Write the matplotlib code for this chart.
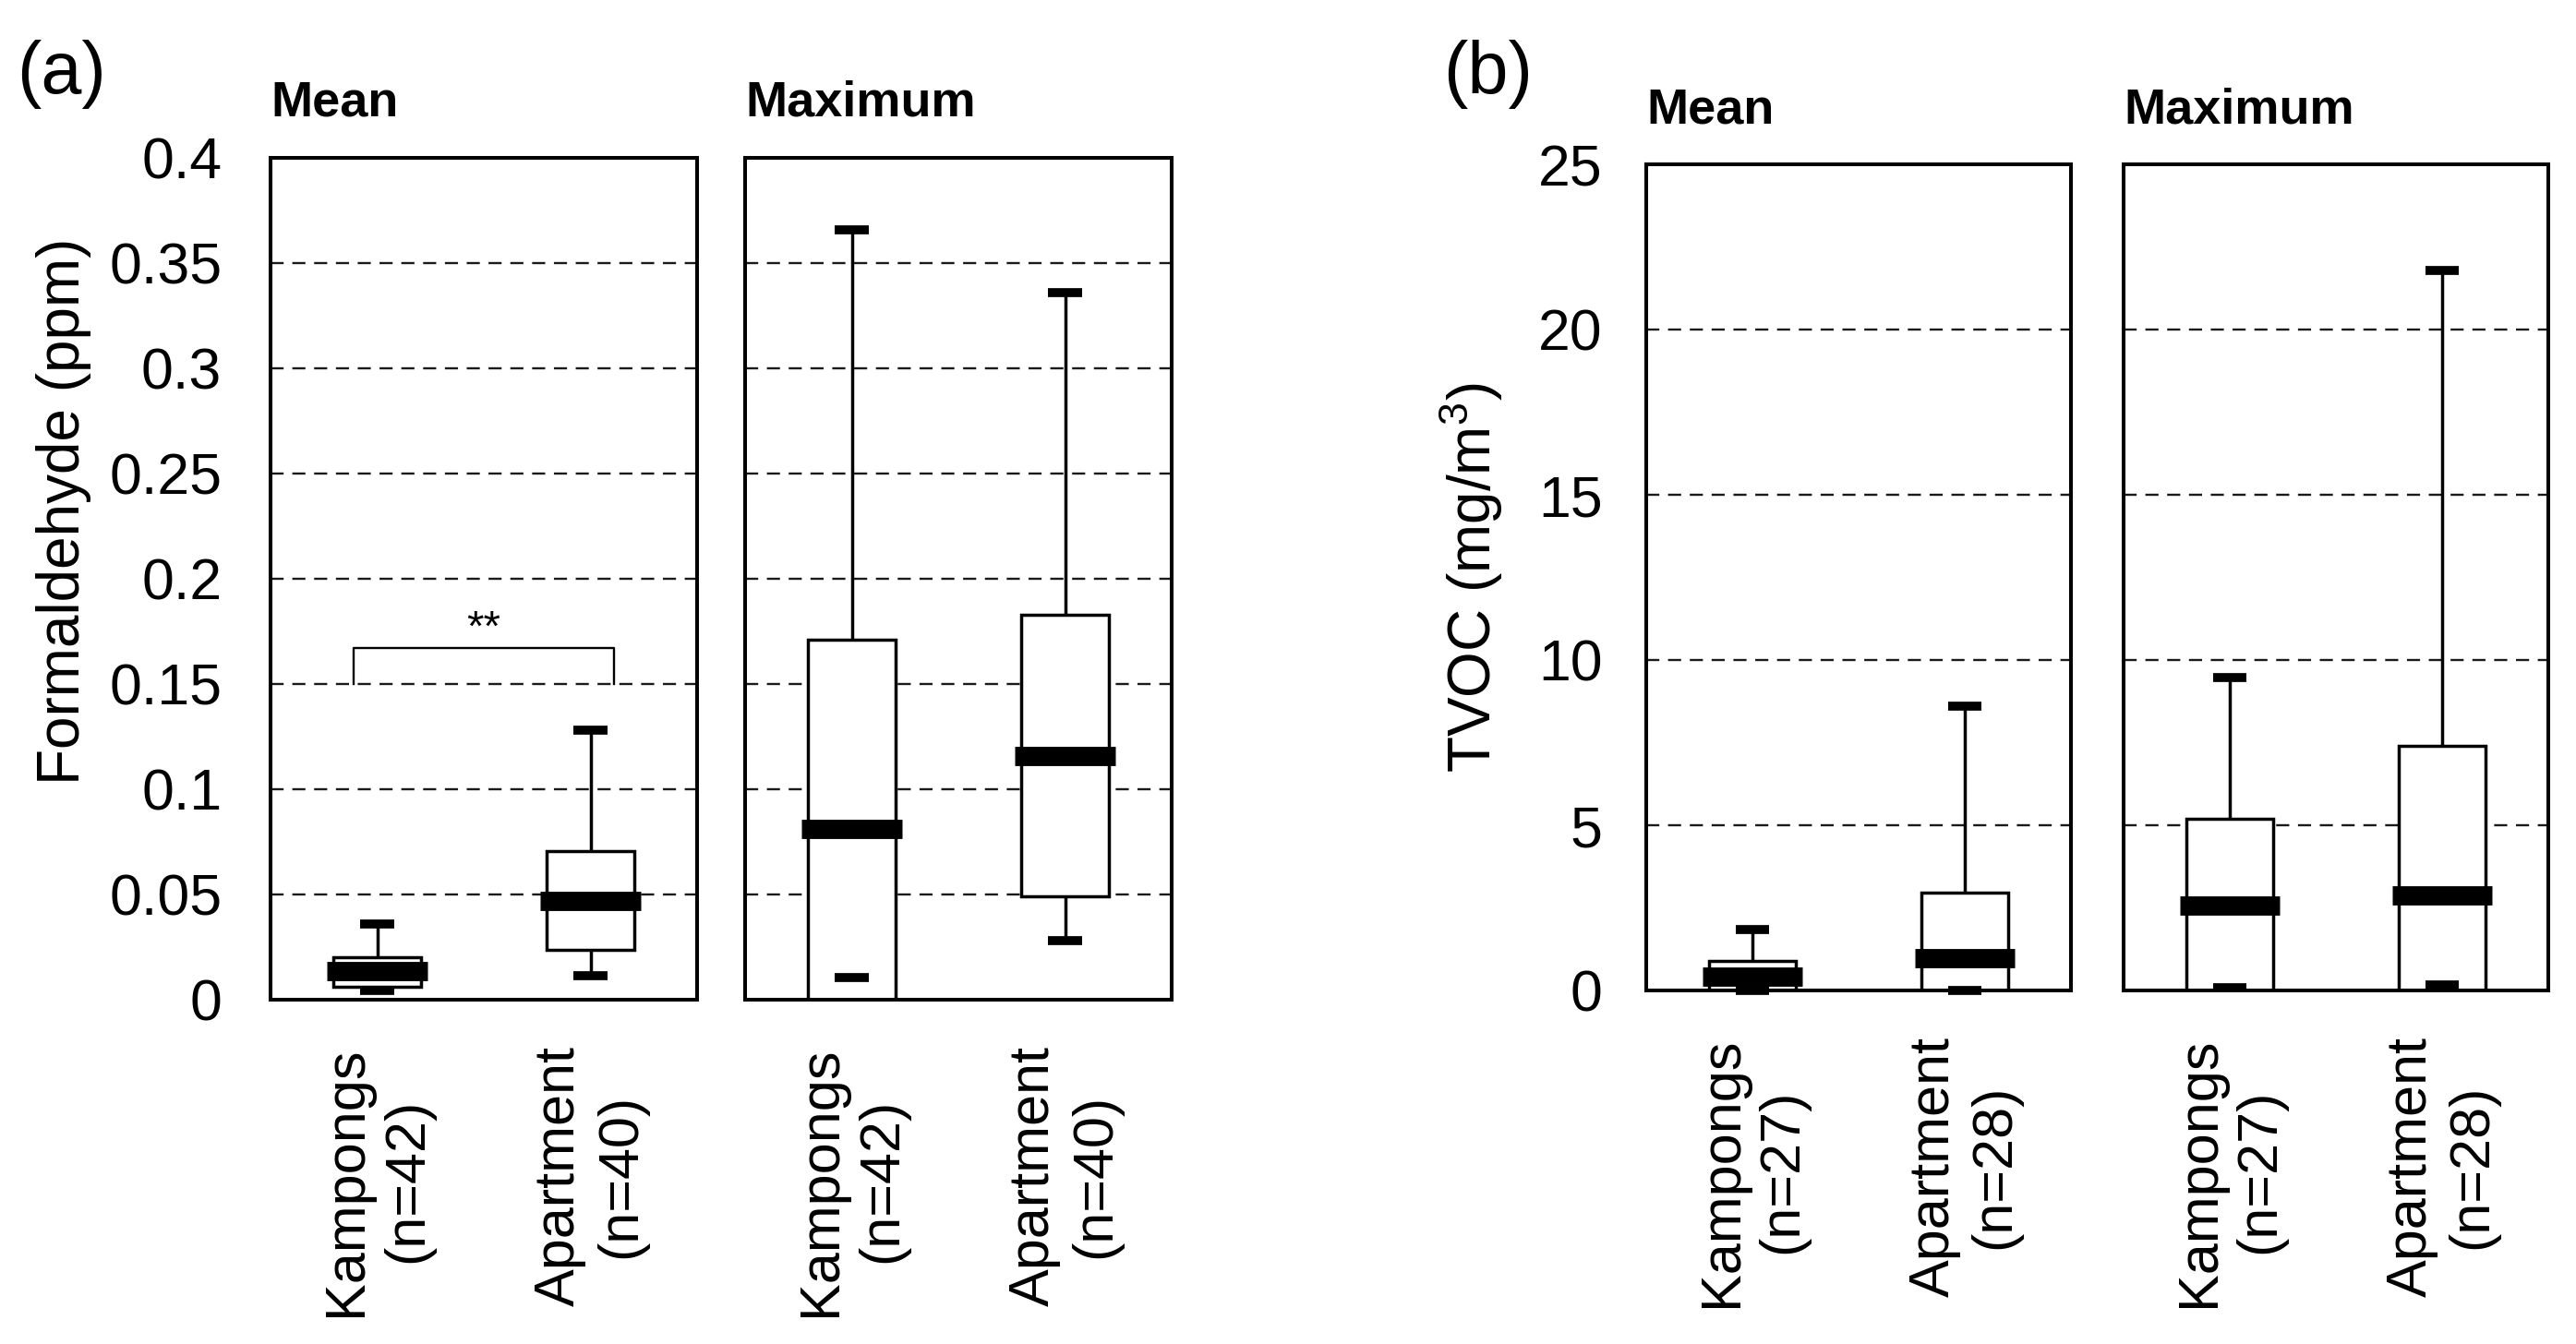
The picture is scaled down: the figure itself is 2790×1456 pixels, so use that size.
"""Formaldehyde and TVOC box plots, Kampongs vs Apartment (mean and maximum)."""
import matplotlib
matplotlib.use("Agg")
import matplotlib.pyplot as plt

plt.rcParams["font.family"] = ["Liberation Sans", "DejaVu Sans"]
plt.rcParams["mathtext.fontset"] = "custom"
plt.rcParams["mathtext.rm"] = "Liberation Sans"

# ---- data -----------------------------------------------------------------
CAT_A = ["Kampongs\n(n=42)", "Apartment\n(n=40)"]
CAT_B = ["Kampongs\n(n=27)", "Apartment\n(n=28)"]

# formaldehyde (ppm), mean of measurements
HCHO_MEAN_LO = [0.0044, 0.0114]
HCHO_MEAN_Q1 = [0.006, 0.0237]
HCHO_MEAN_MED = [0.0136, 0.047]
HCHO_MEAN_Q3 = [0.020, 0.0706]
HCHO_MEAN_HI = [0.036, 0.128]
# formaldehyde (ppm), maximum
HCHO_MAX_LO = [0.0106, 0.028]
HCHO_MAX_Q1 = [0.0, 0.049]
HCHO_MAX_MED = [0.081, 0.1156]
HCHO_MAX_Q3 = [0.171, 0.183]
HCHO_MAX_HI = [0.366, 0.336]

# TVOC (mg/m3), mean
TVOC_MEAN_LO = [0.0, 0.0]
TVOC_MEAN_Q1 = [0.0, 0.0]
TVOC_MEAN_MED = [0.42, 0.97]
TVOC_MEAN_Q3 = [0.89, 2.96]
TVOC_MEAN_HI = [1.84, 8.6]
# TVOC (mg/m3), maximum
TVOC_MAX_LO = [0.08, 0.17]
TVOC_MAX_Q1 = [0.0, 0.0]
TVOC_MAX_MED = [2.58, 2.89]
TVOC_MAX_Q3 = [5.2, 7.41]
TVOC_MAX_HI = [9.48, 21.8]

TICKS_A = [0, 0.05, 0.1, 0.15, 0.2, 0.25, 0.3, 0.35, 0.4]
TICKLAB_A = ["0", "0.05", "0.1", "0.15", "0.2", "0.25", "0.3", "0.35", "0.4"]
TICKS_B = [0, 5, 10, 15, 20, 25]
TICKLAB_B = ["0", "5", "10", "15", "20", "25"]

# significance bracket on the formaldehyde mean panel
SIG_X = [0.89, 2.11]
SIG_Y = [0.15, 0.167]
SIG_TEXT = "**"

BOX_W = 0.41
MED_W = 0.47
CAP_W = 0.16
W, H = 2790, 1456


def draw_panel(ax, lo, q1, med, q3, hi, ticks, ylim):
    ax.set_xlim(0.5, 2.5)
    ax.set_ylim(*ylim)
    for t in ticks[1:-1]:
        ax.axhline(t, color="#1a1a1a", lw=1.7, ls=(0, (6, 4)), zorder=1)
    for i in range(len(med)):
        x = i + 1
        ax.bar(x, q3[i] - q1[i], bottom=q1[i], width=BOX_W, facecolor="white",
               edgecolor="black", linewidth=2.5, zorder=3)
        ax.plot([x, x], [q3[i], hi[i]], color="black", lw=2.5, zorder=2)
        if lo[i] < q1[i]:
            ax.plot([x, x], [lo[i], q1[i]], color="black", lw=2.5, zorder=2)
        for v in (lo[i], hi[i]):
            ax.plot([x - CAP_W / 2, x + CAP_W / 2], [v, v], color="black", lw=7,
                    solid_capstyle="butt", zorder=4, clip_on=False)
        ax.plot([x - MED_W / 2, x + MED_W / 2], [med[i], med[i]], color="black",
                lw=15, solid_capstyle="butt", zorder=5)
    for s in ax.spines.values():
        s.set_linewidth(2.9)
        s.set_zorder(6)
    ax.tick_params(axis="both", length=0)


def main():
    fig = plt.figure(figsize=(W / 100, H / 100), dpi=100)
    pos = {
        "a_mean": [293, 171, 462, 912],
        "a_max": [807, 171, 462, 912],
        "b_mean": [1783, 178, 460, 895],
        "b_max": [2300, 178, 460, 895],
    }
    axes = {}
    for k, (x, y, w, h) in pos.items():
        axes[k] = fig.add_axes([x / W, 1 - (y + h) / H, w / W, h / H])

    draw_panel(axes["a_mean"], HCHO_MEAN_LO, HCHO_MEAN_Q1, HCHO_MEAN_MED,
               HCHO_MEAN_Q3, HCHO_MEAN_HI, TICKS_A, (0, 0.4))
    draw_panel(axes["a_max"], HCHO_MAX_LO, HCHO_MAX_Q1, HCHO_MAX_MED,
               HCHO_MAX_Q3, HCHO_MAX_HI, TICKS_A, (0, 0.4))
    draw_panel(axes["b_mean"], TVOC_MEAN_LO, TVOC_MEAN_Q1, TVOC_MEAN_MED,
               TVOC_MEAN_Q3, TVOC_MEAN_HI, TICKS_B, (0, 25))
    draw_panel(axes["b_max"], TVOC_MAX_LO, TVOC_MAX_Q1, TVOC_MAX_MED,
               TVOC_MAX_Q3, TVOC_MAX_HI, TICKS_B, (0, 25))

    for k, cats in (("a_mean", CAT_A), ("a_max", CAT_A),
                    ("b_mean", CAT_B), ("b_max", CAT_B)):
        ax = axes[k]
        ax.set_xticks([1, 2])
        ax.set_xticklabels(cats, rotation=90, fontsize=44, ha="center", va="top",
                           multialignment="center")
        ax.tick_params(axis="x", pad=36)
        title = "Mean" if k.endswith("mean") else "Maximum"
        ax.text(0.0, 1.05, title, transform=ax.transAxes, fontsize=39,
                fontweight="bold", ha="left", va="baseline")

    axes["a_mean"].set_yticks(TICKS_A)
    axes["a_mean"].set_yticklabels(TICKLAB_A, fontsize=45)
    axes["a_mean"].tick_params(axis="y", pad=38)
    axes["a_mean"].set_ylabel("Formaldehyde (ppm)", fontsize=46)
    axes["a_mean"].yaxis.set_label_coords(-0.42, 0.58)
    axes["b_mean"].set_yticks(TICKS_B)
    axes["b_mean"].set_yticklabels(TICKLAB_B, fontsize=45)
    axes["b_mean"].tick_params(axis="y", pad=34)
    axes["b_mean"].set_ylabel("TVOC (mg/m$^{3}$)", fontsize=46, labelpad=26)
    for k in ("a_max", "b_max"):
        axes[k].set_yticks(TICKS_A if k == "a_max" else TICKS_B)
        axes[k].set_yticklabels([])

    ax = axes["a_mean"]
    ax.plot([SIG_X[0], SIG_X[0], SIG_X[1], SIG_X[1]],
            [SIG_Y[0], SIG_Y[1], SIG_Y[1], SIG_Y[0]], color="black", lw=1.7,
            solid_joinstyle="round", zorder=4)
    ax.text(sum(SIG_X) / 2, SIG_Y[1] - 0.0005, SIG_TEXT, ha="center",
            va="bottom", fontsize=34)

    fig.text(18 / W, 1 - 80 / H, "(a)", fontsize=57, ha="left", va="center")
    fig.text(1563 / W, 1 - 80 / H, "(b)", fontsize=57, ha="left", va="center")

    fig.savefig("out.png", dpi=100)
    plt.close(fig)


if __name__ == "__main__":
    main()
